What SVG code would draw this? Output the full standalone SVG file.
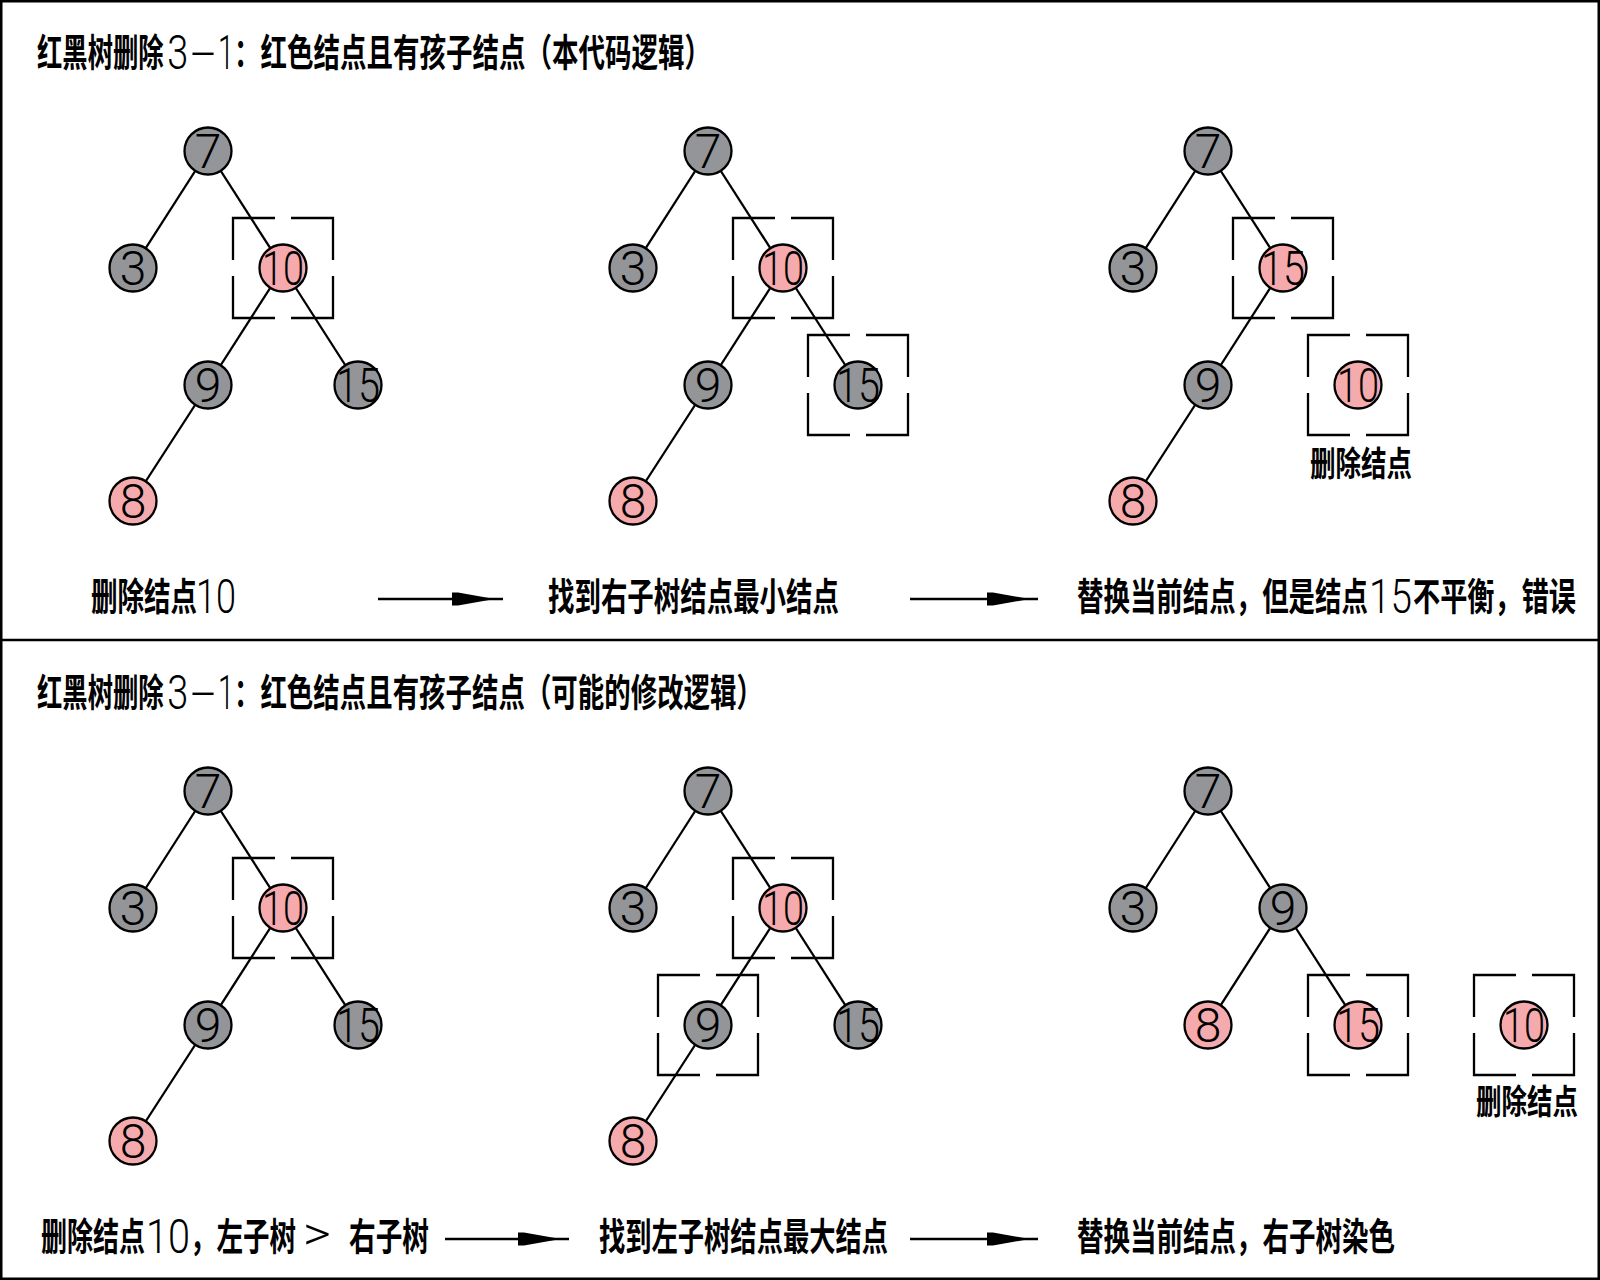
<svg xmlns="http://www.w3.org/2000/svg" xmlns:xlink="http://www.w3.org/1999/xlink" width="1600" height="1280" viewBox="0 0 1600 1280">
<style>
.bg{fill:#fff}
.frame{fill:none;stroke:#000;stroke-width:2.5}
.edge{stroke:#000;stroke-width:2.3;fill:none}
.arrow{stroke:#000;stroke-width:2.3;fill:none}
.box{fill:none;stroke:#000;stroke-width:2.3}
.nd circle{stroke:#000;stroke-width:2.3}
.g circle{fill:#939598}
.r circle{fill:#f5aaad}
.nd text{font-family:Roboto,"Liberation Sans",sans-serif;font-weight:300;font-size:48px;text-anchor:middle;fill:#000}
.cjk{font-family:"Noto Sans CJK SC",sans-serif;font-weight:700;font-size:38px;fill:#000}
.lbl{font-size:34px}
.dig{font-family:Roboto,"Liberation Sans",sans-serif;font-weight:300;font-size:49px}
</style>
<defs>
<path id="bx" class="box" d="M-50,-8 V-50 H-8 M8,-50 H50 V-8 M50,8 V50 H8 M-8,50 H-50 V8"/>
<marker id="ah" markerUnits="userSpaceOnUse" viewBox="0 -7 52 14" markerWidth="52" markerHeight="14" refX="51" refY="0" orient="auto">
<path d="M0,-6.5 L6,-6.5 L37,-1 L37,1 L6,6.5 L0,6.5 Z" fill="#000"/>
</marker>
</defs>
<rect class="bg" x="0" y="0" width="1600" height="1280"/>
<rect class="frame" x="1.25" y="1.25" width="1597.5" height="1277.5"/>
<line class="frame" x1="0" y1="640" x2="1600" y2="640"/>

<g id="connectors">
<line class="edge" x1="208" y1="151" x2="133" y2="268"/>
<line class="edge" x1="208" y1="151" x2="283" y2="268"/>
<line class="edge" x1="283" y1="268" x2="208" y2="385"/>
<line class="edge" x1="283" y1="268" x2="358" y2="385"/>
<line class="edge" x1="208" y1="385" x2="133" y2="501"/>
<line class="edge" x1="708" y1="151" x2="633" y2="268"/>
<line class="edge" x1="708" y1="151" x2="783" y2="268"/>
<line class="edge" x1="783" y1="268" x2="708" y2="385"/>
<line class="edge" x1="783" y1="268" x2="858" y2="385"/>
<line class="edge" x1="708" y1="385" x2="633" y2="501"/>
<line class="edge" x1="1208" y1="151" x2="1133" y2="268"/>
<line class="edge" x1="1208" y1="151" x2="1283" y2="268"/>
<line class="edge" x1="1283" y1="268" x2="1208" y2="385"/>
<line class="edge" x1="1208" y1="385" x2="1133" y2="501"/>
<line class="edge" x1="208" y1="791" x2="133" y2="908"/>
<line class="edge" x1="208" y1="791" x2="283" y2="908"/>
<line class="edge" x1="283" y1="908" x2="208" y2="1025"/>
<line class="edge" x1="283" y1="908" x2="358" y2="1025"/>
<line class="edge" x1="208" y1="1025" x2="133" y2="1141"/>
<line class="edge" x1="708" y1="791" x2="633" y2="908"/>
<line class="edge" x1="708" y1="791" x2="783" y2="908"/>
<line class="edge" x1="783" y1="908" x2="708" y2="1025"/>
<line class="edge" x1="783" y1="908" x2="858" y2="1025"/>
<line class="edge" x1="708" y1="1025" x2="633" y2="1141"/>
<line class="edge" x1="1208" y1="791" x2="1133" y2="908"/>
<line class="edge" x1="1208" y1="791" x2="1283" y2="908"/>
<line class="edge" x1="1283" y1="908" x2="1208" y2="1025"/>
<line class="edge" x1="1283" y1="908" x2="1358" y2="1025"/>
<line class="arrow" x1="378" y1="599" x2="503" y2="599" marker-end="url(#ah)"/>
<line class="arrow" x1="910" y1="599" x2="1038" y2="599" marker-end="url(#ah)"/>
<line class="arrow" x1="445" y1="1239" x2="569" y2="1239" marker-end="url(#ah)"/>
<line class="arrow" x1="910" y1="1239" x2="1038" y2="1239" marker-end="url(#ah)"/>
</g>

<g id="highlights">
<use xlink:href="#bx" href="#bx" x="283" y="268"/>
<use xlink:href="#bx" href="#bx" x="783" y="268"/>
<use xlink:href="#bx" href="#bx" x="858" y="385"/>
<use xlink:href="#bx" href="#bx" x="1283" y="268"/>
<use xlink:href="#bx" href="#bx" x="1358" y="385"/>
<use xlink:href="#bx" href="#bx" x="283" y="908"/>
<use xlink:href="#bx" href="#bx" x="783" y="908"/>
<use xlink:href="#bx" href="#bx" x="708" y="1025"/>
<use xlink:href="#bx" href="#bx" x="1358" y="1025"/>
<use xlink:href="#bx" href="#bx" x="1524" y="1025"/>
</g>

<g id="a7" class="nd g"><circle cx="208" cy="151" r="23.5"/><text x="208" y="168">7</text></g>
<g id="a3" class="nd g"><circle cx="133" cy="268" r="23.5"/><text x="133" y="285">3</text></g>
<g id="a10" class="nd r"><circle cx="283" cy="268" r="23.5"/><text x="283" y="285" textLength="42" lengthAdjust="spacingAndGlyphs">10</text></g>
<g id="a9" class="nd g"><circle cx="208" cy="385" r="23.5"/><text x="208" y="402">9</text></g>
<g id="a15" class="nd g"><circle cx="358" cy="385" r="23.5"/><text x="358" y="402" textLength="44" lengthAdjust="spacingAndGlyphs">15</text></g>
<g id="a8" class="nd r"><circle cx="133" cy="501" r="23.5"/><text x="133" y="518">8</text></g>

<g id="b7" class="nd g"><circle cx="708" cy="151" r="23.5"/><text x="708" y="168">7</text></g>
<g id="b3" class="nd g"><circle cx="633" cy="268" r="23.5"/><text x="633" y="285">3</text></g>
<g id="b10" class="nd r"><circle cx="783" cy="268" r="23.5"/><text x="783" y="285" textLength="42" lengthAdjust="spacingAndGlyphs">10</text></g>
<g id="b9" class="nd g"><circle cx="708" cy="385" r="23.5"/><text x="708" y="402">9</text></g>
<g id="b15" class="nd g"><circle cx="858" cy="385" r="23.5"/><text x="858" y="402" textLength="44" lengthAdjust="spacingAndGlyphs">15</text></g>
<g id="b8" class="nd r"><circle cx="633" cy="501" r="23.5"/><text x="633" y="518">8</text></g>

<g id="c7" class="nd g"><circle cx="1208" cy="151" r="23.5"/><text x="1208" y="168">7</text></g>
<g id="c3" class="nd g"><circle cx="1133" cy="268" r="23.5"/><text x="1133" y="285">3</text></g>
<g id="c15" class="nd r"><circle cx="1283" cy="268" r="23.5"/><text x="1283" y="285" textLength="44" lengthAdjust="spacingAndGlyphs">15</text></g>
<g id="c9" class="nd g"><circle cx="1208" cy="385" r="23.5"/><text x="1208" y="402">9</text></g>
<g id="c8" class="nd r"><circle cx="1133" cy="501" r="23.5"/><text x="1133" y="518">8</text></g>
<g id="c10" class="nd r"><circle cx="1358" cy="385" r="23.5"/><text x="1358" y="402" textLength="42" lengthAdjust="spacingAndGlyphs">10</text></g>

<g id="d7" class="nd g"><circle cx="208" cy="791" r="23.5"/><text x="208" y="808">7</text></g>
<g id="d3" class="nd g"><circle cx="133" cy="908" r="23.5"/><text x="133" y="925">3</text></g>
<g id="d10" class="nd r"><circle cx="283" cy="908" r="23.5"/><text x="283" y="925" textLength="42" lengthAdjust="spacingAndGlyphs">10</text></g>
<g id="d9" class="nd g"><circle cx="208" cy="1025" r="23.5"/><text x="208" y="1042">9</text></g>
<g id="d15" class="nd g"><circle cx="358" cy="1025" r="23.5"/><text x="358" y="1042" textLength="44" lengthAdjust="spacingAndGlyphs">15</text></g>
<g id="d8" class="nd r"><circle cx="133" cy="1141" r="23.5"/><text x="133" y="1158">8</text></g>

<g id="e7" class="nd g"><circle cx="708" cy="791" r="23.5"/><text x="708" y="808">7</text></g>
<g id="e3" class="nd g"><circle cx="633" cy="908" r="23.5"/><text x="633" y="925">3</text></g>
<g id="e10" class="nd r"><circle cx="783" cy="908" r="23.5"/><text x="783" y="925" textLength="42" lengthAdjust="spacingAndGlyphs">10</text></g>
<g id="e9" class="nd g"><circle cx="708" cy="1025" r="23.5"/><text x="708" y="1042">9</text></g>
<g id="e15" class="nd g"><circle cx="858" cy="1025" r="23.5"/><text x="858" y="1042" textLength="44" lengthAdjust="spacingAndGlyphs">15</text></g>
<g id="e8" class="nd r"><circle cx="633" cy="1141" r="23.5"/><text x="633" y="1158">8</text></g>

<g id="f7" class="nd g"><circle cx="1208" cy="791" r="23.5"/><text x="1208" y="808">7</text></g>
<g id="f3" class="nd g"><circle cx="1133" cy="908" r="23.5"/><text x="1133" y="925">3</text></g>
<g id="f9" class="nd g"><circle cx="1283" cy="908" r="23.5"/><text x="1283" y="925">9</text></g>
<g id="f8" class="nd r"><circle cx="1208" cy="1025" r="23.5"/><text x="1208" y="1042">8</text></g>
<g id="f15" class="nd r"><circle cx="1358" cy="1025" r="23.5"/><text x="1358" y="1042" textLength="44" lengthAdjust="spacingAndGlyphs">15</text></g>
<g id="f10" class="nd r"><circle cx="1524" cy="1025" r="23.5"/><text x="1524" y="1042" textLength="42" lengthAdjust="spacingAndGlyphs">10</text></g>

<g id="labels">
<text class="cjk" transform="matrix(0.7 0 0 1 37 0)" y="66"><tspan x="0" textLength="181" lengthAdjust="spacingAndGlyphs">红黑树删除</tspan><tspan class="dig" x="186" y="69" textLength="30" lengthAdjust="spacingAndGlyphs">3</tspan><tspan class="dig" x="219" textLength="37" lengthAdjust="spacingAndGlyphs">-</tspan><tspan class="dig" x="258.6" textLength="22.9" lengthAdjust="spacingAndGlyphs">1</tspan><tspan x="281.4" y="66" textLength="681.4" lengthAdjust="spacingAndGlyphs">：红色结点且有孩子结点（本代码逻辑）</tspan></text>
<text class="cjk" transform="matrix(0.7 0 0 1 37 0)" y="706"><tspan x="0" textLength="181" lengthAdjust="spacingAndGlyphs">红黑树删除</tspan><tspan class="dig" x="186" y="709" textLength="30" lengthAdjust="spacingAndGlyphs">3</tspan><tspan class="dig" x="219" textLength="37" lengthAdjust="spacingAndGlyphs">-</tspan><tspan class="dig" x="258.6" textLength="22.9" lengthAdjust="spacingAndGlyphs">1</tspan><tspan x="281.4" y="706" textLength="755.7" lengthAdjust="spacingAndGlyphs">：红色结点且有孩子结点（可能的修改逻辑）</tspan></text>

<text class="cjk lbl" transform="matrix(0.75 0 0 1 1310 0)" x="0" y="476" textLength="136" lengthAdjust="spacingAndGlyphs">删除结点</text>
<text class="cjk lbl" transform="matrix(0.75 0 0 1 1476 0)" x="0" y="1114" textLength="136" lengthAdjust="spacingAndGlyphs">删除结点</text>

<text class="cjk" transform="matrix(0.7 0 0 1 91 0)" y="610"><tspan x="0" textLength="151.4" lengthAdjust="spacingAndGlyphs">删除结点</tspan><tspan class="dig" x="150" y="613" textLength="57.1" lengthAdjust="spacingAndGlyphs">10</tspan></text>
<text class="cjk" transform="matrix(0.7 0 0 1 548 0)" x="0" y="610" textLength="415.7" lengthAdjust="spacingAndGlyphs">找到右子树结点最小结点</text>
<text class="cjk" transform="matrix(0.7 0 0 1 1077 0)" y="610"><tspan x="0" textLength="415.7" lengthAdjust="spacingAndGlyphs">替换当前结点，但是结点</tspan><tspan class="dig" x="417.1" y="613" textLength="61.4" lengthAdjust="spacingAndGlyphs">15</tspan><tspan x="480" y="610" textLength="232.9" lengthAdjust="spacingAndGlyphs">不平衡，错误</tspan></text>

<text class="cjk" transform="matrix(0.7 0 0 1 41 0)" y="1250"><tspan x="0" textLength="148.6" lengthAdjust="spacingAndGlyphs">删除结点</tspan><tspan class="dig" x="150" y="1253" textLength="62.9" lengthAdjust="spacingAndGlyphs">10</tspan><tspan x="212.9" y="1250" textLength="151.4" lengthAdjust="spacingAndGlyphs">，左子树</tspan><tspan class="dig" x="374.3" y="1250" font-size="40" textLength="40" lengthAdjust="spacingAndGlyphs">&gt;</tspan><tspan x="440" y="1250" textLength="114.3" lengthAdjust="spacingAndGlyphs">右子树</tspan></text>
<text class="cjk" transform="matrix(0.7 0 0 1 599 0)" x="0" y="1250" textLength="412.9" lengthAdjust="spacingAndGlyphs">找到左子树结点最大结点</text>
<text class="cjk" transform="matrix(0.7 0 0 1 1077 0)" x="0" y="1250" textLength="454.3" lengthAdjust="spacingAndGlyphs">替换当前结点，右子树染色</text>
</g>
</svg>
